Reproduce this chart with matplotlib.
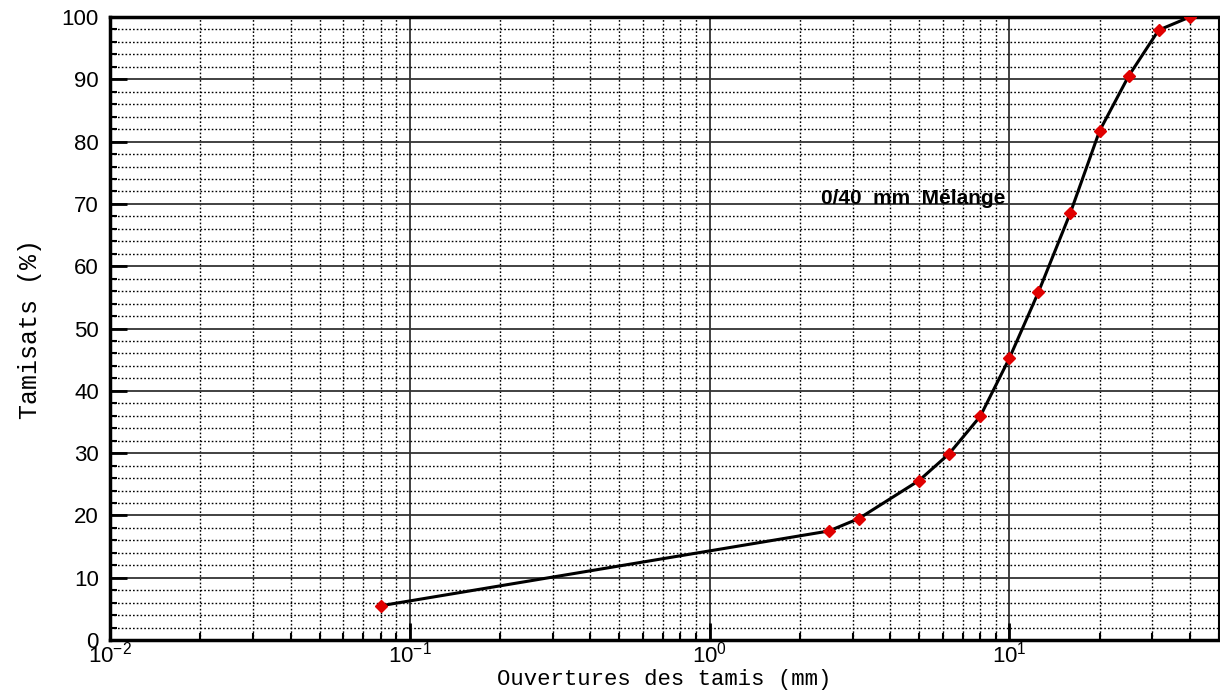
"""Courbe granulométrique — 0/40 mm Mélange."""
import matplotlib

matplotlib.use("Agg")
import matplotlib.pyplot as plt
from matplotlib.ticker import LogLocator, MultipleLocator, NullFormatter

# Ouvertures des tamis (mm) et tamisats cumulés (%)
OUVERTURES = [0.08, 2.5, 3.15, 5, 6.3, 8, 10, 12.5, 16, 20, 25, 31.5, 40]
TAMISATS = [5.5, 17.5, 19.5, 25.6, 29.9, 35.9, 45.2, 55.8, 68.6, 81.7, 90.5, 97.9, 100.0]

LABEL_COURBE = "0/40  mm  Mélange"
XLABEL = "Ouvertures des tamis (mm)"
YLABEL = "Tamisats (%)"

plt.rcParams["font.family"] = ["Liberation Sans", "DejaVu Sans"]
plt.rcParams["mathtext.fontset"] = "custom"
plt.rcParams["mathtext.rm"] = "Liberation Sans"

fig = plt.figure(figsize=(12.2, 6.95), dpi=100)
ax = fig.add_axes([0.0902, 0.0791, 0.9088, 0.8964])

ax.plot(OUVERTURES, TAMISATS, color="black", lw=2.2, zorder=3)
ax.plot(OUVERTURES, TAMISATS, ls="none", marker="D", ms=6.5,
        mfc="#e00000", mec="#e00000", zorder=4)

ax.set_xscale("log")
ax.set_xlim(0.01, 50)
ax.set_ylim(0, 100)

ax.xaxis.set_major_locator(LogLocator(base=10, numticks=10))
ax.xaxis.set_minor_locator(LogLocator(base=10, subs=range(2, 10), numticks=20))
ax.xaxis.set_minor_formatter(NullFormatter())
ax.yaxis.set_major_locator(MultipleLocator(10))
ax.yaxis.set_minor_locator(MultipleLocator(2))

ax.grid(which="major", color="#333333", lw=1.3, ls="-")
ax.grid(which="minor", color="black", lw=1.0, ls=(0, (1.2, 1.5)))
ax.set_axisbelow(True)

ax.tick_params(which="major", direction="in", length=12, width=2,
               labelsize=16)
ax.tick_params(axis="y", which="major", pad=8)
ax.tick_params(axis="x", which="major", pad=1)
ax.tick_params(which="minor", direction="in", length=5, width=1.5)

for side in ("left", "bottom", "top"):
    ax.spines[side].set_linewidth(2.5)
ax.spines["right"].set_linewidth(1.5)

mono = ["Liberation Mono", "DejaVu Sans Mono"]
ax.set_xlabel(XLABEL, family=mono, fontsize=16, labelpad=1)
ax.set_ylabel(YLABEL, family=mono, fontsize=18, labelpad=14)

ax.text(2.36, 70.8, LABEL_COURBE, fontsize=15, fontweight="bold",
        ha="left", va="center", zorder=5)

fig.savefig("out.png", dpi=100)
